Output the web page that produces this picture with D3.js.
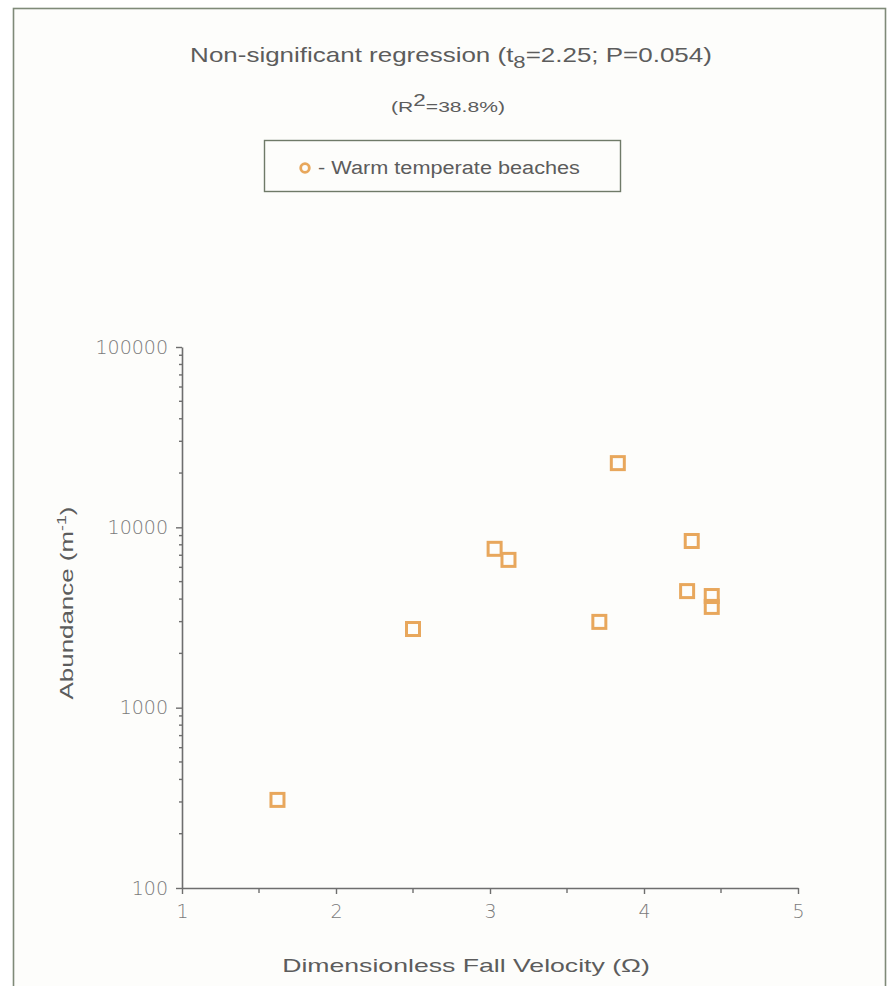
<!DOCTYPE html>
<html>
<head>
<meta charset="utf-8">
<script src="https://cdn.jsdelivr.net/npm/d3@7"></script>
<style>
  html, body { margin: 0; padding: 0; background: #ffffff; }
  svg { display: block; }
</style>
</head>
<body>
<svg id="chart" width="889" height="986"></svg>
<script>
// Dimensionless fall velocity (Omega) for each warm temperate beach
const omega = [1.62, 2.50, 3.03, 3.12, 3.71, 3.83, 4.31, 4.28, 4.44, 4.44];
// Abundance (individuals per metre of shoreline)
const abundance = [308, 2730, 7600, 6600, 2990, 22700, 8400, 4430, 4160, 3620];

const xTicks = [1, 2, 3, 4, 5];
const xMinorTicks = [1.5, 2.5, 3.5, 4.5];
const yTicks = [100, 1000, 10000, 100000];

const seriesName = "Warm temperate beaches";
const markerColor = "#e8a75c";
const axisColor = "#6e6e6e";
const textColor = "#5c5c5c";
const labelFont = "Liberation Sans, Arial, sans-serif";
const tickFont = "'DejaVu Sans ExtraLight', 'DejaVu Sans', Verdana, sans-serif";

const svg = d3.select("#chart");

// page frame
svg.append("rect")
  .attr("x", 13.5).attr("y", 8.5)
  .attr("width", 872).attr("height", 990)
  .attr("fill", "#fdfdfb")
  .attr("stroke", "#7f8a78").attr("stroke-width", 1.6);

// text helper: centred label, widened along its baseline to a target length
function wideText(parent, cx, cy, size, targetWidth, rotate) {
  const g = parent.append("g");
  const t = g.append("text")
    .attr("x", 0).attr("y", 0)
    .attr("text-anchor", "middle")
    .attr("font-family", labelFont)
    .attr("font-size", size)
    .attr("fill", textColor);
  return {
    text: t,
    fit() {
      const w = t.node().getBBox().width;
      const sx = targetWidth / w;
      g.attr("transform", `translate(${cx},${cy})` + (rotate ? ` rotate(${rotate})` : "") + ` scale(${sx},1)`);
    }
  };
}

// title and statistic line
const title = wideText(svg, 451, 62, 20, 522);
title.text.append("tspan").text("Non-significant regression (t");
title.text.append("tspan").attr("dy", 6).attr("font-size", 17).text("8");
title.text.append("tspan").attr("dy", -6).text("=2.25; P=0.054)");
title.fit();

const r2 = wideText(svg, 448, 112, 15, 114);
r2.text.append("tspan").text("(R");
r2.text.append("tspan").attr("dy", -6).attr("font-size", 16).text("2");
r2.text.append("tspan").attr("dy", 6).text("=38.8%)");
r2.fit();

// legend
const legend = svg.append("g");
legend.append("rect")
  .attr("x", 264.5).attr("y", 140.5)
  .attr("width", 356).attr("height", 51)
  .attr("fill", "none")
  .attr("stroke", "#6f7a68").attr("stroke-width", 1.4);
legend.append("circle")
  .attr("cx", 305).attr("cy", 168).attr("r", 4.3)
  .attr("fill", "none")
  .attr("stroke", markerColor).attr("stroke-width", 2.8);
const legText = wideText(legend, 449, 174, 18, 262);
legText.text.text("- " + seriesName);
legText.fit();

// scales
const x = d3.scaleLinear().domain([1, 5]).range([182, 798]);
const y = d3.scaleLog().domain([100, 100000]).range([888, 347]);

// x axis
const xAxis = svg.append("g")
  .attr("transform", `translate(0,${y(100)})`)
  .call(d3.axisBottom(x).tickValues(xTicks).tickFormat(d3.format("d"))
    .tickSize(6).tickPadding(11).tickSizeOuter(0));
xAxis.select(".domain").attr("stroke", axisColor).attr("stroke-width", 1.6);
xAxis.selectAll(".tick line").attr("stroke", axisColor).attr("stroke-width", 1.4);
xAxis.selectAll(".tick text")
  .attr("font-family", tickFont).attr("font-size", 19).attr("font-weight", 200)
  .attr("fill", "#7a7a7a");
xAxis.selectAll(".minor")
  .data(xMinorTicks).enter().append("line")
  .attr("x1", d => x(d)).attr("x2", d => x(d))
  .attr("y1", 0).attr("y2", 5)
  .attr("stroke", axisColor).attr("stroke-width", 1.4);

// y axis
const yAxis = svg.append("g")
  .attr("transform", `translate(${x(1)},0)`)
  .call(d3.axisLeft(y).tickValues(yTicks).tickFormat(d3.format("d"))
    .tickSize(6).tickPadding(8).tickSizeOuter(0));
yAxis.select(".domain").attr("stroke", axisColor).attr("stroke-width", 1.6);
yAxis.selectAll(".tick line").attr("stroke", axisColor).attr("stroke-width", 1.4);
yAxis.selectAll(".tick text")
  .attr("font-family", tickFont).attr("font-size", 19).attr("font-weight", 200)
  .attr("fill", "#7a7a7a");

// logarithmic minor ticks drawn as short marks
const yMinor = [];
for (let decade = 100; decade < 100000; decade *= 10) {
  for (let m = 2; m <= 9; m++) yMinor.push(decade * m);
}
yAxis.selectAll(".minor")
  .data(yMinor).enter().append("line")
  .attr("x1", -3).attr("x2", 0)
  .attr("y1", d => y(d)).attr("y2", d => y(d))
  .attr("stroke", axisColor).attr("stroke-width", 1.4);

// axis titles
const xTitle = wideText(svg, 466, 972, 19, 368);
xTitle.text.text("Dimensionless Fall Velocity (\u03A9)");
xTitle.fit();

const yTitle = wideText(svg, 73, 603, 19, 193, -90);
yTitle.text.append("tspan").text("Abundance (m");
yTitle.text.append("tspan").attr("dy", -7).attr("font-size", 13).text("-1");
yTitle.text.append("tspan").attr("dy", 7).text(")");
yTitle.fit();

// data points: open squares
const data = omega.map((v, i) => ({ omega: v, abundance: abundance[i] }));
const s = 13;
svg.append("g").selectAll("rect")
  .data(data).enter().append("rect")
  .attr("x", d => x(d.omega) - s / 2)
  .attr("y", d => y(d.abundance) - s / 2)
  .attr("width", s).attr("height", s)
  .attr("fill", "none")
  .attr("stroke", markerColor)
  .attr("stroke-width", 3);
</script>
</body>
</html>
